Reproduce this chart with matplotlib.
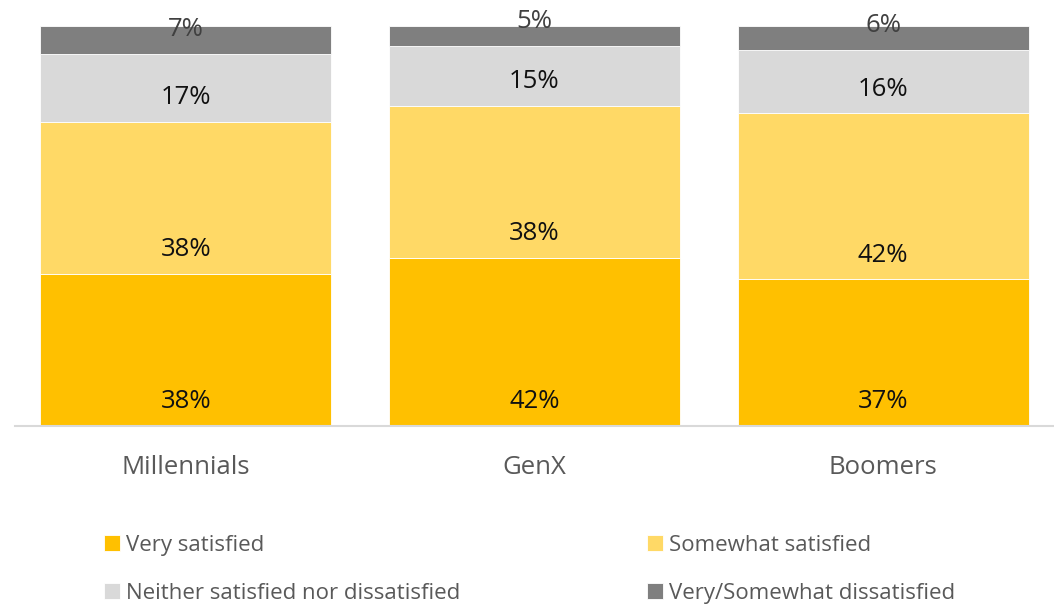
import numpy as np
import matplotlib.pyplot as plt

plt.rcParams['font.family'] = ['Open Sans', 'DejaVu Sans']

groups = ["Millennials", "GenX", "Boomers"]
series = ["Very satisfied", "Somewhat satisfied",
          "Neither satisfied nor dissatisfied", "Very/Somewhat dissatisfied"]
very_sat = [38, 42, 37]
somewhat_sat = [38, 38, 42]
neither = [17, 15, 16]
dissat = [7, 5, 6]
colors = ["#FFC000", "#FFD966", "#D9D9D9", "#7F7F7F"]

data = np.array([very_sat, somewhat_sat, neither, dissat], dtype=float)
totals = data.sum(axis=0)  # 100% stacked chart
shares = data / totals * 100

fig = plt.figure(figsize=(10.54, 6.06), dpi=100)
ax = fig.add_axes([15 / 1054, 1 - 426 / 606, 1039 / 1054, 426 / 606])

x = np.arange(len(groups))
bottom = np.zeros(len(groups))
for i, (name, col) in enumerate(zip(series, colors)):
    ax.bar(x, shares[i], 0.835, bottom=bottom, color=col, edgecolor="white",
           linewidth=0.6, label=name)
    # labels sit near the base of each segment
    tc = "#404040" if i == 3 else "#111111"
    for xi, b, v in zip(x, bottom, data[i]):
        ax.text(xi, b + 6.0, f"{v:.0f}%", ha="center", va="center",
                fontsize=18.5, color=tc)
    bottom += shares[i]

ax.set_xlim(-0.49, 2.49)
ax.set_ylim(0, 106.5)
ax.set_yticks([])
ax.set_xticks(x)
ax.set_xticklabels(groups, fontsize=18.5, color="#595959")
ax.tick_params(axis="x", length=0, pad=21)
for s in ["top", "right", "left"]:
    ax.spines[s].set_visible(False)
ax.spines["bottom"].set_color("#D9D9D9")
ax.spines["bottom"].set_linewidth(1.5)

handles, labels = ax.get_legend_handles_labels()
order = [0, 2, 1, 3]
leg = fig.legend([handles[i] for i in order], [labels[i] for i in order],
                 ncol=2, loc="upper left",
                 bbox_to_anchor=(84 / 1054, 1 - 515 / 606), frameon=False,
                 fontsize=16, handlelength=0.7, handleheight=0.7,
                 handletextpad=0.3, columnspacing=8.4, labelspacing=1.2,
                 labelcolor="#595959")

fig.savefig("out.png", dpi=100)
